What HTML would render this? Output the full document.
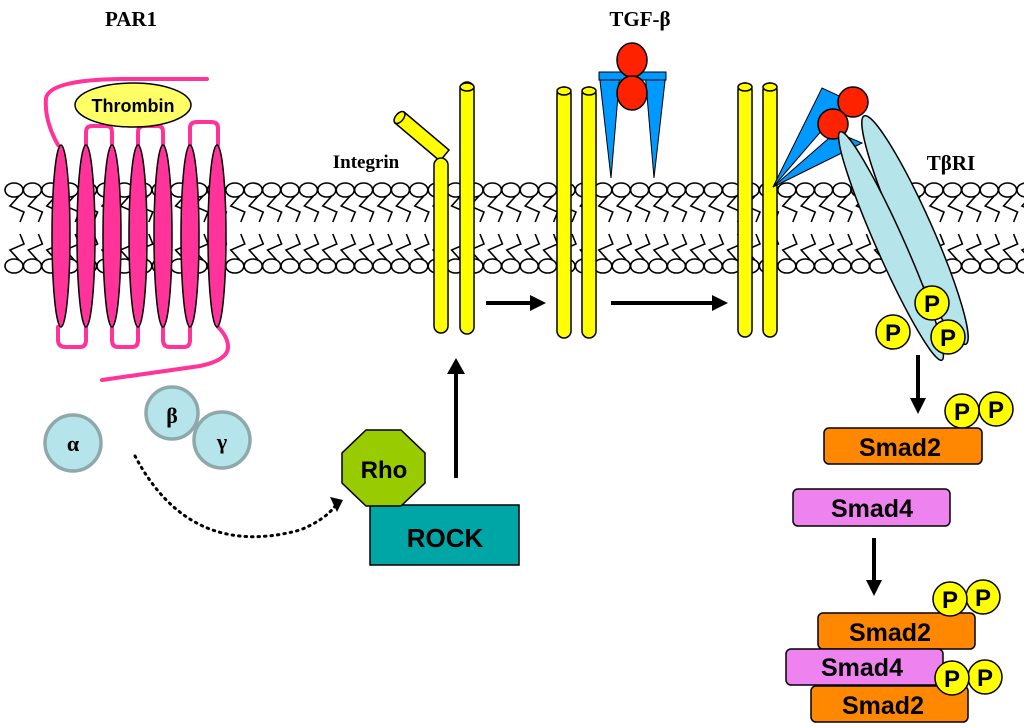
<!DOCTYPE html>
<html><head><meta charset="utf-8"><style>
html,body{margin:0;padding:0;background:#fff;}
svg{display:block;}
.lab{font-family:"Liberation Serif",serif;font-weight:bold;fill:#000;}
.sl{font-family:"Liberation Sans",sans-serif;font-weight:bold;fill:#000;}
</style></head><body>
<svg width="1024" height="727" viewBox="0 0 1024 727" xmlns="http://www.w3.org/2000/svg" xmlns:xlink="http://www.w3.org/1999/xlink">
<defs>
<g id="lip" fill="#fff" stroke="#000" stroke-width="1.6">
<path fill="none" d="M5,196 L-4,206 L10,212 L6,222"/>
<path fill="none" d="M5,260 L-4,250 L10,244 L6,234"/>
<ellipse cx="0" cy="190" rx="9" ry="7"/>
<ellipse cx="0" cy="266" rx="9" ry="7"/>
</g>
</defs>
<g>
<use href="#lip" xlink:href="#lip" x="14"/><use href="#lip" xlink:href="#lip" x="32.4"/><use href="#lip" xlink:href="#lip" x="50.8"/><use href="#lip" xlink:href="#lip" x="69.2"/><use href="#lip" xlink:href="#lip" x="87.6"/><use href="#lip" xlink:href="#lip" x="106"/><use href="#lip" xlink:href="#lip" x="124.4"/><use href="#lip" xlink:href="#lip" x="142.8"/><use href="#lip" xlink:href="#lip" x="161.2"/><use href="#lip" xlink:href="#lip" x="179.6"/><use href="#lip" xlink:href="#lip" x="198"/><use href="#lip" xlink:href="#lip" x="216.4"/><use href="#lip" xlink:href="#lip" x="234.8"/><use href="#lip" xlink:href="#lip" x="253.2"/><use href="#lip" xlink:href="#lip" x="271.6"/><use href="#lip" xlink:href="#lip" x="290"/><use href="#lip" xlink:href="#lip" x="308.4"/><use href="#lip" xlink:href="#lip" x="326.8"/><use href="#lip" xlink:href="#lip" x="345.2"/><use href="#lip" xlink:href="#lip" x="363.6"/><use href="#lip" xlink:href="#lip" x="382"/><use href="#lip" xlink:href="#lip" x="400.4"/><use href="#lip" xlink:href="#lip" x="418.8"/><use href="#lip" xlink:href="#lip" x="437.2"/><use href="#lip" xlink:href="#lip" x="455.6"/><use href="#lip" xlink:href="#lip" x="474"/><use href="#lip" xlink:href="#lip" x="492.4"/><use href="#lip" xlink:href="#lip" x="510.8"/><use href="#lip" xlink:href="#lip" x="529.2"/><use href="#lip" xlink:href="#lip" x="547.6"/><use href="#lip" xlink:href="#lip" x="566"/><use href="#lip" xlink:href="#lip" x="584.4"/><use href="#lip" xlink:href="#lip" x="602.8"/><use href="#lip" xlink:href="#lip" x="621.2"/><use href="#lip" xlink:href="#lip" x="639.6"/><use href="#lip" xlink:href="#lip" x="658"/><use href="#lip" xlink:href="#lip" x="676.4"/><use href="#lip" xlink:href="#lip" x="694.8"/><use href="#lip" xlink:href="#lip" x="713.2"/><use href="#lip" xlink:href="#lip" x="731.6"/><use href="#lip" xlink:href="#lip" x="750"/><use href="#lip" xlink:href="#lip" x="768.4"/><use href="#lip" xlink:href="#lip" x="786.8"/><use href="#lip" xlink:href="#lip" x="805.2"/><use href="#lip" xlink:href="#lip" x="823.6"/><use href="#lip" xlink:href="#lip" x="842"/><use href="#lip" xlink:href="#lip" x="860.4"/><use href="#lip" xlink:href="#lip" x="878.8"/><use href="#lip" xlink:href="#lip" x="897.2"/><use href="#lip" xlink:href="#lip" x="915.6"/><use href="#lip" xlink:href="#lip" x="934"/><use href="#lip" xlink:href="#lip" x="952.4"/><use href="#lip" xlink:href="#lip" x="970.8"/><use href="#lip" xlink:href="#lip" x="989.2"/><use href="#lip" xlink:href="#lip" x="1007.6"/><use href="#lip" xlink:href="#lip" x="1026"/>
</g>

<text class="lab" x="131" y="26" font-size="21" text-anchor="middle">PAR1</text>
<text class="lab" x="640" y="26" font-size="21" text-anchor="middle">TGF-β</text>
<text class="lab" x="366" y="168" font-size="19" text-anchor="middle">Integrin</text>
<text class="lab" x="951" y="170" font-size="21" text-anchor="middle">TβRI</text>

<g fill="none" stroke="#ff3399" stroke-width="4" stroke-linecap="round">
<path d="M207,79 L120,79 Q50,80 46,98 Q44,120 58,145"/>
<path d="M86,145 L86,132 Q86,126 92,126 L106,126 Q112,126 112,132 L112,145"/>
<path d="M138,145 L138,132 Q138,126 144,126 L158,126 Q163,126 163,132 L163,145"/>
<path d="M190,145 L190,128 Q190,122 197,122 L211,122 Q218,122 218,128 L218,145"/>
<path d="M58,327 L58,340 Q58,347 66,347 L80,347 Q86,347 86,340 L86,327"/>
<path d="M112,327 L112,340 Q112,347 118,347 L132,347 Q138,347 138,340 L138,327"/>
<path d="M163,327 L163,340 Q163,347 170,347 L184,347 Q190,347 190,340 L190,327"/>
<path d="M218,327 Q228,337 228,347 Q228,360 200,366 L102,380"/>
</g>
<g fill="#ff3399" stroke="#000" stroke-width="1.5">
<ellipse cx="61" cy="236" rx="9" ry="91"/>
<ellipse cx="86" cy="236" rx="9" ry="91"/>
<ellipse cx="112" cy="236" rx="9" ry="91"/>
<ellipse cx="138" cy="236" rx="9" ry="91"/>
<ellipse cx="163" cy="236" rx="9" ry="91"/>
<ellipse cx="190" cy="236" rx="9" ry="91"/>
<ellipse cx="217" cy="236" rx="9" ry="91"/>
</g>
<ellipse cx="133" cy="105" rx="58" ry="22" fill="#ffff66" stroke="#000" stroke-width="1.5"/>
<text class="sl" x="133" y="112" font-size="18" text-anchor="middle">Thrombin</text>

<g fill="#b5e4ea" stroke="#8fa9aa" stroke-width="3.5">
<circle cx="73" cy="443" r="28"/>
<circle cx="172" cy="413" r="26"/>
<circle cx="222" cy="440" r="28"/>
</g>
<text class="lab" x="73" y="451" font-size="22" text-anchor="middle">α</text>
<text class="lab" x="172" y="423" font-size="22" text-anchor="middle">β</text>
<text class="lab" x="222" y="449" font-size="22" text-anchor="middle">γ</text>

<path d="M135,456 Q190,560 300,530 Q325,520 336,505" fill="none" stroke="#000" stroke-width="3" stroke-dasharray="1.5 5" stroke-linecap="round"/>
<path d="M330,497 L343,500 L337,512 z" fill="#000"/>

<rect x="370" y="505" width="149" height="60" fill="#00a6a6" stroke="#000" stroke-width="1.5"/>
<text class="sl" x="445" y="547" font-size="26" text-anchor="middle">ROCK</text>
<polygon points="366,430 401,430 425,453 425,483 401,506 366,506 342,483 342,453" fill="#99cc00" stroke="#000" stroke-width="1.5"/>
<text class="sl" x="384" y="478" font-size="24" text-anchor="middle">Rho</text>
<line x1="456" y1="478" x2="456" y2="372" stroke="#000" stroke-width="4"/>
<path d="M447,374 L456,358 L465,374 z" fill="#000"/>

<g fill="#ffff00" stroke="#000" stroke-width="1.5">
<path d="M395,123 L404,112 L449,150 L440,161 z"/>
<ellipse cx="399.5" cy="117.5" rx="7" ry="4" transform="rotate(-50 399.5 117.5)"/>
<rect x="434" y="158" width="14" height="175" rx="7"/>
<rect x="460" y="82" width="14" height="252" rx="7"/><ellipse cx="467" cy="87" rx="7" ry="4"/>
<rect x="557" y="87" width="14" height="251" rx="7"/><ellipse cx="564" cy="91" rx="7" ry="4"/>
<rect x="582" y="87" width="14" height="251" rx="7"/><ellipse cx="589" cy="91" rx="7" ry="4"/>
<rect x="738" y="83" width="14" height="254" rx="7"/><ellipse cx="745" cy="87" rx="7" ry="4"/>
<rect x="763" y="83" width="14" height="254" rx="7"/><ellipse cx="770" cy="87" rx="7" ry="4"/>
</g>
<line x1="486" y1="303" x2="532" y2="303" stroke="#000" stroke-width="4"/>
<path d="M530,295 L546,303 L530,311 z" fill="#000"/>
<line x1="611" y1="303" x2="714" y2="303" stroke="#000" stroke-width="4"/>
<path d="M712,295 L728,303 L712,311 z" fill="#000"/>

<g fill="#0099ff" stroke="#000" stroke-width="1">
<polygon points="599,72 620,72 611,178"/>
<polygon points="645,72 666,72 654,178"/>
<rect x="599" y="72" width="67" height="8"/>
</g>
<g fill="#ff2200" stroke="#000" stroke-width="1.5">
<ellipse cx="632" cy="60" rx="15" ry="17"/>
<ellipse cx="632" cy="93" rx="15" ry="17"/>
</g>

<g fill="#0099ff" stroke="#000" stroke-width="1">
<polygon points="773,187 822,88 848,100"/>
<polygon points="773,187 836,132 862,143"/>
</g>
<g fill="#ff2200" stroke="#000" stroke-width="1.5">
<circle cx="853" cy="102" r="15"/>
<circle cx="833" cy="124" r="15"/>
</g>
<g fill="#b5e4ea" stroke="#000" stroke-width="1.5">
<ellipse cx="915" cy="230" rx="17" ry="125" transform="rotate(-24 915 230)"/>
<ellipse cx="891" cy="246" rx="14" ry="125" transform="rotate(-24 891 246)"/>
</g>
<g fill="#ffff00" stroke="#000" stroke-width="1.5">
<circle cx="932" cy="303" r="17"/>
<circle cx="893" cy="332" r="17"/>
<circle cx="948" cy="337" r="17"/>
</g>
<g class="sl" font-size="24" text-anchor="middle">
<text x="932" y="312">P</text><text x="893" y="341">P</text><text x="948" y="346">P</text>
</g>

<line x1="918" y1="355" x2="918" y2="400" stroke="#000" stroke-width="4"/>
<path d="M910,398 L918,414 L926,398 z" fill="#000"/>
<line x1="874" y1="538" x2="874" y2="582" stroke="#000" stroke-width="4"/>
<path d="M866,580 L874,596 L882,580 z" fill="#000"/>

<g stroke="#000" stroke-width="1.5">
<rect x="824" y="428" width="158" height="36" rx="5" fill="#ff8800"/>
<rect x="793" y="489" width="157" height="37" rx="5" fill="#ee82ee"/>
<rect x="818" y="613" width="157" height="36" rx="5" fill="#ff8800"/>
<rect x="811" y="686" width="157" height="36" rx="5" fill="#ff8800"/>
<rect x="786" y="649" width="157" height="36" rx="5" fill="#ee82ee"/>
</g>
<g class="sl" font-size="25" text-anchor="middle">
<text x="900" y="456">Smad2</text>
<text x="872" y="517">Smad4</text>
<text x="890" y="641">Smad2</text>
<text x="862" y="676">Smad4</text>
<text x="883" y="714">Smad2</text>
</g>
<g fill="#ffff00" stroke="#000" stroke-width="1.5">
<circle cx="996" cy="409" r="17"/><circle cx="962" cy="411" r="17"/>
<circle cx="983" cy="597" r="17"/><circle cx="950" cy="599" r="17"/>
<circle cx="985" cy="677" r="17"/><circle cx="952" cy="678" r="17"/>
</g>
<g class="sl" font-size="24" text-anchor="middle">
<text x="996" y="418">P</text><text x="962" y="420">P</text>
<text x="983" y="606">P</text><text x="950" y="608">P</text>
<text x="985" y="686">P</text><text x="952" y="687">P</text>
</g>
</svg>
</body></html>
